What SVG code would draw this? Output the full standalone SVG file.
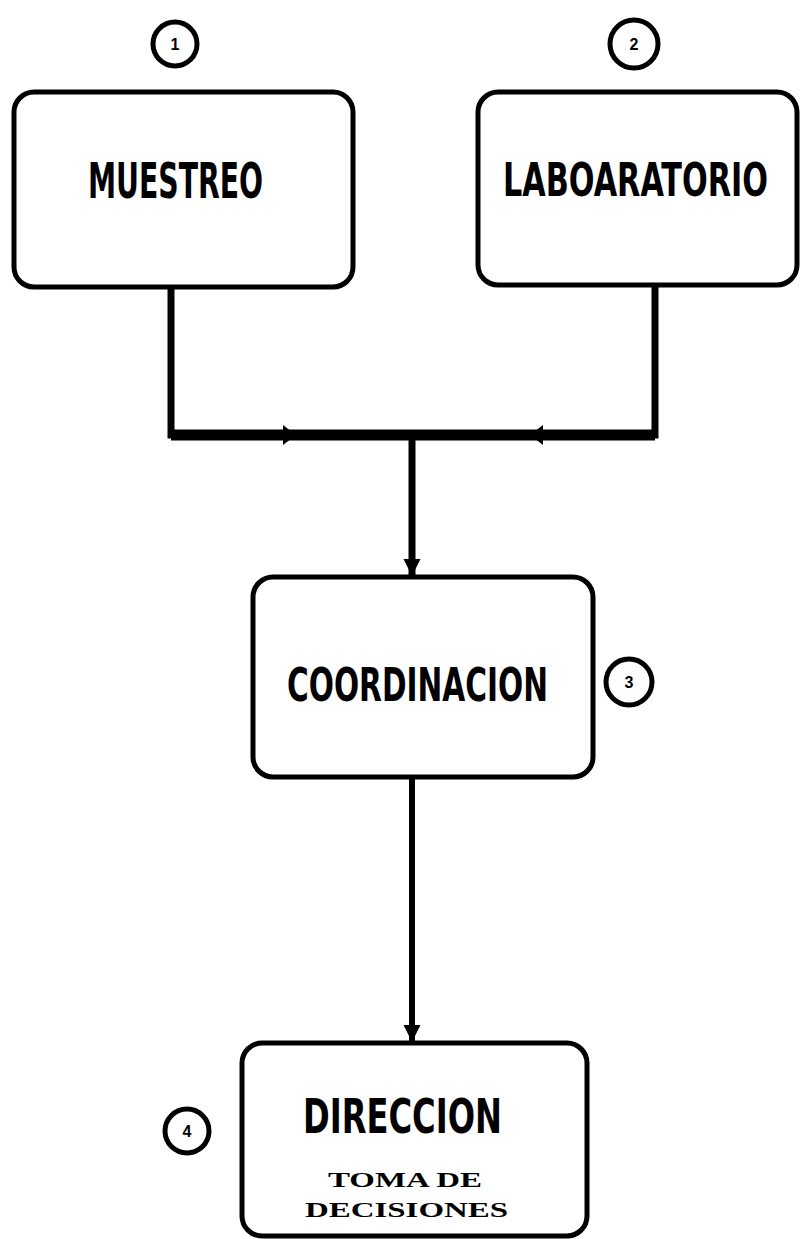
<svg xmlns="http://www.w3.org/2000/svg" width="807" height="1239" viewBox="0 0 807 1239">
<defs>
<style>
.box{fill:#fff;stroke:#000;stroke-width:5}
.num{fill:#fff;stroke:#000;stroke-width:5}
.lbl{font-family:"DejaVu Sans Condensed","Liberation Sans Narrow","Liberation Sans",sans-serif;font-weight:bold;fill:#000}
.sub{font-family:"Liberation Serif",serif;font-weight:bold;fill:#000;font-size:22px}
.dig{font-family:"Liberation Sans",sans-serif;font-weight:bold;font-size:16px;fill:#000;text-anchor:middle}
.ln{fill:none;stroke:#000}
</style>
<marker id="ah" viewBox="0 0 10 10" refX="10" refY="5" markerWidth="17" markerHeight="22" markerUnits="userSpaceOnUse" orient="auto">
<path d="M0,0 L10,5 L0,10 Z" fill="#000"/>
</marker>
</defs>
<rect width="807" height="1239" fill="#fff"/>
<g id="connectors">
<path class="ln" d="M171,287 V435 H655 V285" stroke-width="7"/>
<path class="ln" d="M171,435 H655" stroke-width="11"/>
<path d="M283,425 L296,435 L283,445 Z" fill="#000"/>
<path d="M543,425 L530,435 L543,445 Z" fill="#000"/>
<line class="ln" x1="412" y1="440" x2="412" y2="576" stroke-width="7" marker-end="url(#ah)"/>
<line class="ln" x1="412" y1="777" x2="412" y2="1042" stroke-width="6" marker-end="url(#ah)"/>
</g>
<g id="n1">
<rect class="box" x="14" y="92" width="339" height="195" rx="20"/>
<text class="lbl" x="88" y="198" font-size="50" textLength="175" lengthAdjust="spacingAndGlyphs">MUESTREO</text>
</g>
<g id="c1"><circle class="num" cx="175" cy="44" r="22"/><text class="dig" x="175" y="50">1</text></g>
<g id="n2">
<rect class="box" x="478" y="92" width="319" height="193" rx="20"/>
<text class="lbl" x="503" y="196" font-size="46" textLength="265" lengthAdjust="spacingAndGlyphs">LABOARATORIO</text>
</g>
<g id="c2"><circle class="num" cx="634" cy="44" r="24"/><text class="dig" x="634" y="50">2</text></g>
<g id="n3">
<rect class="box" x="253" y="577" width="340" height="200" rx="20"/>
<text class="lbl" x="287" y="701" font-size="46" textLength="261" lengthAdjust="spacingAndGlyphs">COORDINACION</text>
</g>
<g id="c3"><circle class="num" cx="629" cy="682" r="23"/><text class="dig" x="629" y="688">3</text></g>
<g id="n4">
<rect class="box" x="242" y="1043" width="345" height="193" rx="20"/>
<text class="lbl" x="303" y="1133" font-size="48" textLength="199" lengthAdjust="spacingAndGlyphs">DIRECCION</text>
<text class="sub" x="328" y="1187" textLength="154" lengthAdjust="spacingAndGlyphs">TOMA DE</text>
<text class="sub" x="305" y="1217" textLength="203" lengthAdjust="spacingAndGlyphs">DECISIONES</text>
</g>
<g id="c4"><circle class="num" cx="187" cy="1131" r="22"/><text class="dig" x="187" y="1137">4</text></g>
</svg>
